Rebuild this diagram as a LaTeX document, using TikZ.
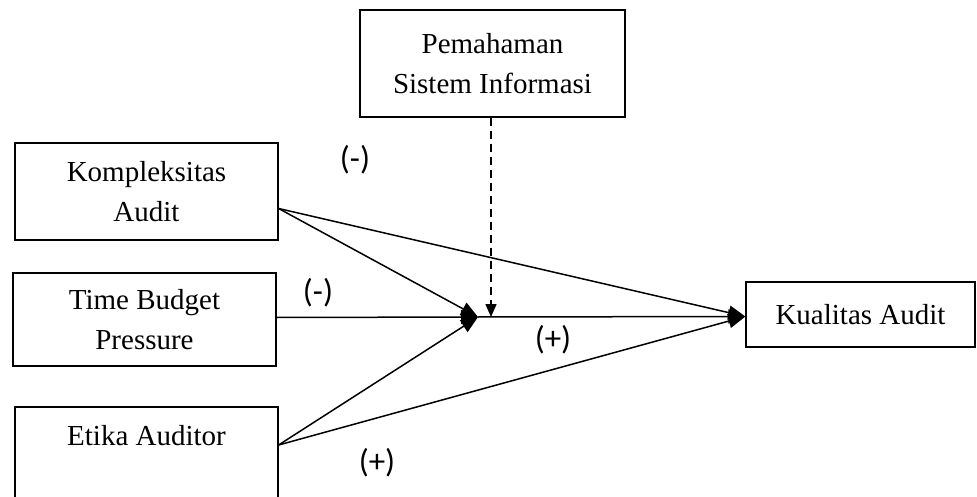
\documentclass[tikz,border=0pt]{standalone}
\usepackage{fontspec}
\setmainfont{Liberation Serif}
\newfontfamily\signfont{Carlito}
\usepackage{tikz}
\usetikzlibrary{arrows.meta,positioning}

\begin{document}
\begin{tikzpicture}[x=1pt,y=-1pt,
	varbox/.style={draw,line width=1.2pt,align=center,inner sep=0pt,font=\fontsize{29}{40}\selectfont},
	path/.style={line width=1.5pt,-{Triangle[length=17pt,width=14pt]}},
	sign/.style={font=\signfont\fontsize{33}{36}\selectfont}]
	\useasboundingbox (0,0) rectangle (977,497);
	\node (pemahaman) at (492.5,63.5) [varbox,minimum width=265pt,minimum height=107pt] {Pemahaman\\Sistem Informasi};
	\node (komp) at (146.5,191.5) [varbox,minimum width=263pt,minimum height=97pt] {Kompleksitas\\Audit};
	\node (tbp) at (144.5,319.5) [varbox,minimum width=263pt,minimum height=93pt] {Time Budget\\Pressure};
	\node (etika) at (146.5,455) [varbox,minimum width=263pt,minimum height=96pt] {Etika Auditor\\\mbox{}};
	\node (kualitas) at (860.5,314.5) [varbox,minimum width=229pt,minimum height=65pt] {Kualitas Audit};
	\coordinate (mid) at (478,317);
	\coordinate (moderasi) at (491,317);
	\draw [path] ([yshift=-17pt]komp.east) -- (mid);
	\draw [path] ([yshift=2pt]tbp.east) -- (mid);
	\draw [path] ([yshift=10pt]etika.east) -- (mid);
	\draw [path] (mid) -- ([yshift=-2pt]kualitas.west);
	\draw [path] ([yshift=-17pt]komp.east) -- ([yshift=-2pt]kualitas.west);
	\draw [path] ([yshift=10pt]etika.east) -- ([yshift=-2pt]kualitas.west);
	\draw [path,dashed,dash pattern=on 8pt off 5pt,-{Triangle[length=13pt,width=11pt]}] (pemahaman.south -| moderasi) -- (moderasi);
	\node (s1) at (355,160) [sign] {(-)};
	\node (s2) at (318,293) [sign] {(-)};
	\node (s3) at (553,340) [sign] {(+)};
	\node (s4) at (377,463) [sign] {(+)};
\end{tikzpicture}
\end{document}
